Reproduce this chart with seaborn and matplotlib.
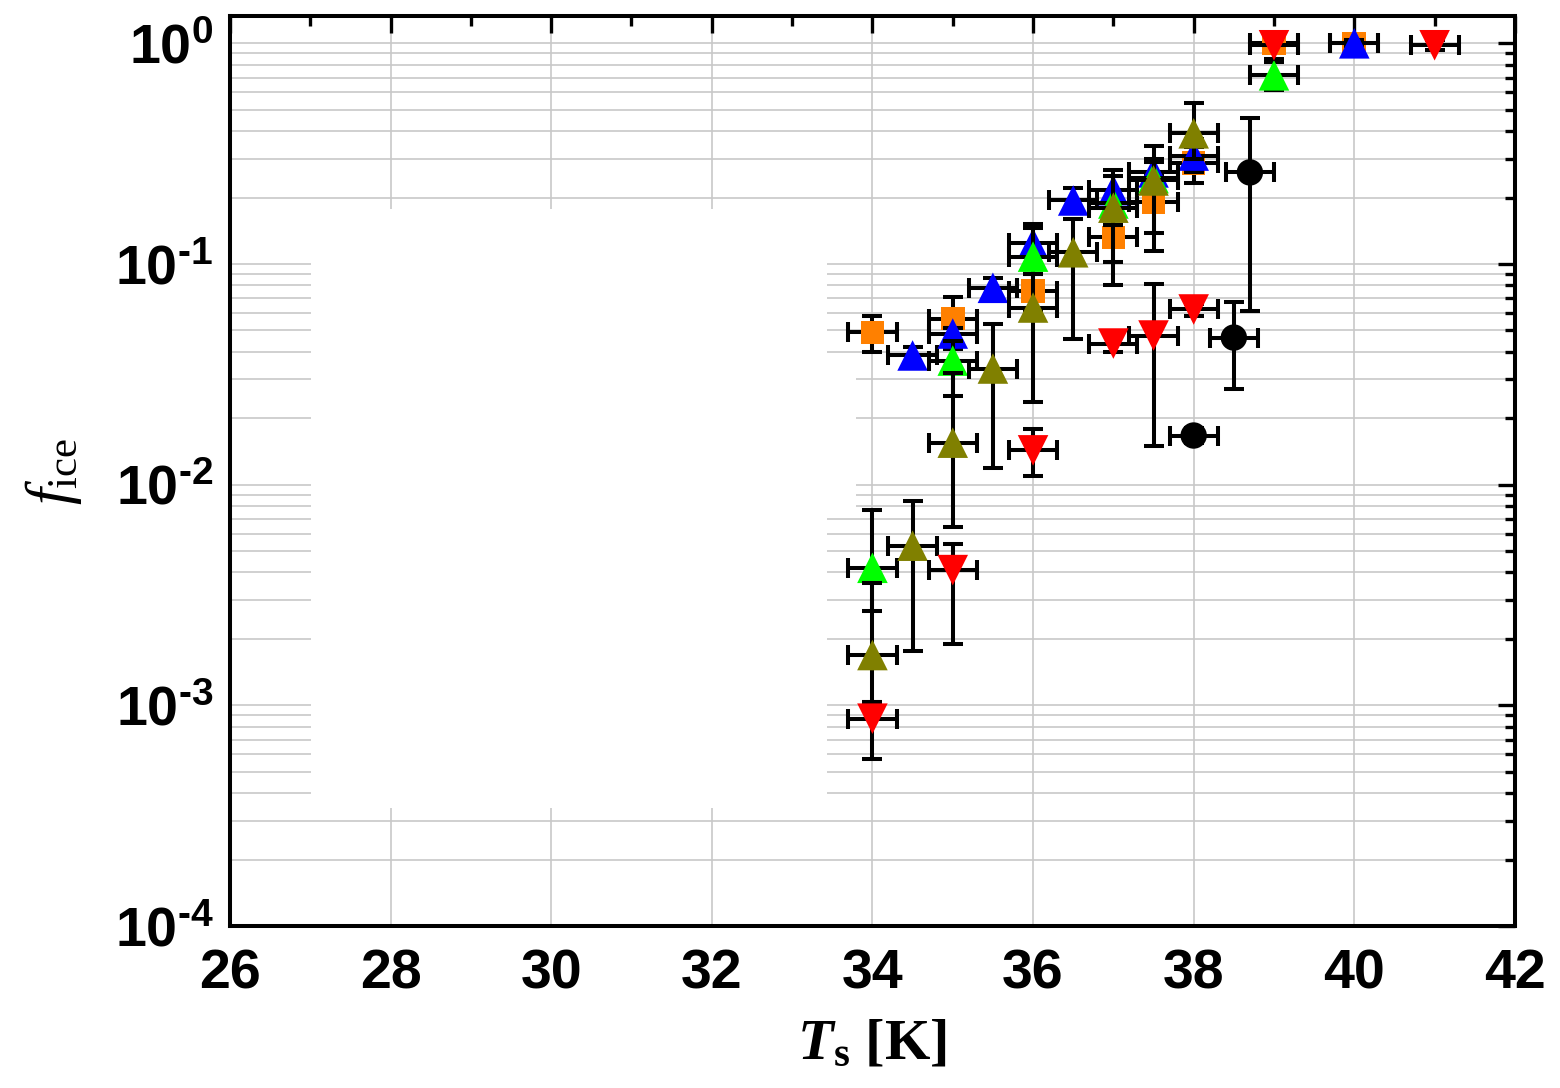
import matplotlib
matplotlib.use("Agg")
import matplotlib.pyplot as plt
import matplotlib.ticker as mticker
from matplotlib.patches import Rectangle
import numpy as np
import pandas as pd
import seaborn as sns

# ---- data (T_s in K, f_ice, lower/upper error bounds)
orange_x = [34, 35, 36, 37, 37.5, 38, 39, 40]
orange_y = [0.049, 0.0566, 0.0756, 0.132, 0.19, 0.286, 1.0, 1.0]
orange_lo = [0.040, 0.045, 0.062, 0.080, 0.115, 0.232, 0.95, 0.97]
orange_hi = [0.058, 0.0705, 0.090, 0.17, 0.25, 0.34, 1.03, 1.03]

blue_x = [34.5, 35, 35.5, 36, 36.5, 37, 37.5, 38, 40]
blue_y = [0.0385, 0.0484, 0.078, 0.124, 0.194, 0.216, 0.26, 0.31, 1.0]
blue_lo = [0.035, 0.041, 0.07, 0.10, 0.17, 0.17, 0.22, 0.26, 0.97]
blue_hi = [0.042, 0.0515, 0.086, 0.152, 0.22, 0.266, 0.30, 0.37, 1.03]

green_x = [34, 35, 36, 37, 37.5, 39]
green_y = [0.0042, 0.0365, 0.108, 0.188, 0.245, 0.716]
green_lo = [0.00268, 0.0253, 0.09, 0.15, 0.21, 0.612]
green_hi = [0.0077, 0.045, 0.146, 0.25, 0.29, 0.82]

olive_x = [34, 34.5, 35, 35.5, 36, 36.5, 37, 37.5, 38]
olive_y = [0.00169, 0.00529, 0.0155, 0.0336, 0.0635, 0.113, 0.18, 0.239, 0.391]
olive_lo = [0.00103, 0.00177, 0.0064, 0.0119, 0.0238, 0.0459, 0.1016, 0.138, 0.30]
olive_hi = [0.0036, 0.00846, 0.032, 0.0537, 0.09, 0.16, 0.25, 0.344, 0.534]

red_x = [34, 35, 36, 37, 37.5, 38, 39, 41]
red_y = [0.00087, 0.0041, 0.0143, 0.0436, 0.0474, 0.0622, 0.98, 0.98]
red_lo = [0.00057, 0.0019, 0.011, 0.040, 0.015, 0.058, 0.85, 0.93]
red_hi = [0.00103, 0.0054, 0.0179, 0.047, 0.081, 0.066, 1.05, 1.03]

black_x = [38, 38.5, 38.7]
black_y = [0.0167, 0.0464, 0.26]
black_lo = [0.0155, 0.027, 0.0615]
black_hi = [0.018, 0.067, 0.461]

x_err = 0.3

series = [
    ("orange", orange_x, orange_y, orange_lo, orange_hi, "#FF8000", "s", 17),
    ("blue", blue_x, blue_y, blue_lo, blue_hi, "#0000FF", "^", 22),
    ("green", green_x, green_y, green_lo, green_hi, "#00FF00", "^", 22),
    ("olive", olive_x, olive_y, olive_lo, olive_hi, "#808000", "^", 22),
    ("red", red_x, red_y, red_lo, red_hi, "#FF0000", "v", 22),
    ("black", black_x, black_y, black_lo, black_hi, "#000000", "o", 19),
]

sns.set_style("white")
plt.rcParams["font.family"] = ["Liberation Sans", "DejaVu Sans"]
plt.rcParams["text.color"] = "black"
plt.rcParams["axes.labelcolor"] = "black"
plt.rcParams["mathtext.fontset"] = "custom"
plt.rcParams["mathtext.rm"] = "Liberation Serif"
plt.rcParams["mathtext.it"] = "Liberation Serif:italic"
plt.rcParams["mathtext.bf"] = "Liberation Serif:bold"
plt.rcParams["mathtext.bfit"] = "Liberation Serif:italic:bold"
plt.rcParams["mathtext.sf"] = "Liberation Sans:bold"

fig = plt.figure(figsize=(15.6, 10.88), dpi=100)
ax = fig.add_axes([0.1474, 0.1489, 0.8237, 0.8364])

for i, (name, x, y, lo, hi, col, mk, ms) in enumerate(series):
    y = np.array(y)
    yerr = [y - np.array(lo), np.array(hi) - y]
    ax.errorbar(x, y, xerr=x_err, yerr=yerr, fmt="none", ecolor="black",
                elinewidth=2.9, capsize=7, capthick=2.9, zorder=3 + 2 * i)
    df = pd.DataFrame({"T": x, "f": y})
    sns.scatterplot(data=df, x="T", y="f", ax=ax, marker=mk, color=col,
                    s=ms ** 2, edgecolor="none", linewidth=0, zorder=4 + 2 * i)


def decade_label(v, pos):
    e = int(round(np.log10(v)))
    s = str(e).replace("-", "\u2010")
    return r"$\mathsf{10^{%s}}$" % s


ax.set_yscale("log")
ax.set_xlim(26, 42)
ax.set_ylim(1e-4, 1.33)

ax.xaxis.set_major_locator(mticker.MultipleLocator(2))
ax.xaxis.set_minor_locator(mticker.MultipleLocator(1))
ax.yaxis.set_major_locator(mticker.LogLocator(base=10, numticks=10))
ax.yaxis.set_minor_locator(mticker.LogLocator(base=10, subs=np.arange(2, 10), numticks=20))
ax.yaxis.set_minor_formatter(mticker.NullFormatter())
ax.yaxis.set_major_formatter(mticker.FuncFormatter(decade_label))

ax.set_axisbelow(True)
ax.xaxis.grid(True, which="major", color="#c8c8c8", linewidth=1.2)
ax.yaxis.grid(True, which="both", color="#c8c8c8", linewidth=1.2)

# erased legend area in the reference
ax.add_patch(Rectangle((0.063, 0.1297), 0.4016, 0.6583, transform=ax.transAxes,
                       facecolor="white", edgecolor="none", zorder=1))
ax.add_patch(Rectangle((0.4646, 0.4593), 0.0226, 0.1594, transform=ax.transAxes,
                       facecolor="white", edgecolor="none", zorder=1))

ax.tick_params(which="both", direction="in", top=True, right=True, width=2.4,
               colors="black")
ax.tick_params(which="major", length=12)
ax.tick_params(which="minor", length=7)
ax.tick_params(axis="x", which="major", pad=16, labelsize=40)
ax.tick_params(axis="y", which="major", pad=12, labelsize=40)
for lab in ax.get_xticklabels():
    lab.set_fontweight("bold")

for sp in ax.spines.values():
    sp.set_linewidth(2.9)
    sp.set_color("black")

ax.set_xlabel(r"$\mathbfit{T}_{\mathbf{s}}$ [K]", fontsize=42,
              family="Liberation Serif", fontweight="bold", labelpad=14)
ax.set_ylabel(r"$\mathit{f}_{\mathrm{ice}}$", fontsize=44, labelpad=22)

fig.savefig("out.png", dpi=100)
